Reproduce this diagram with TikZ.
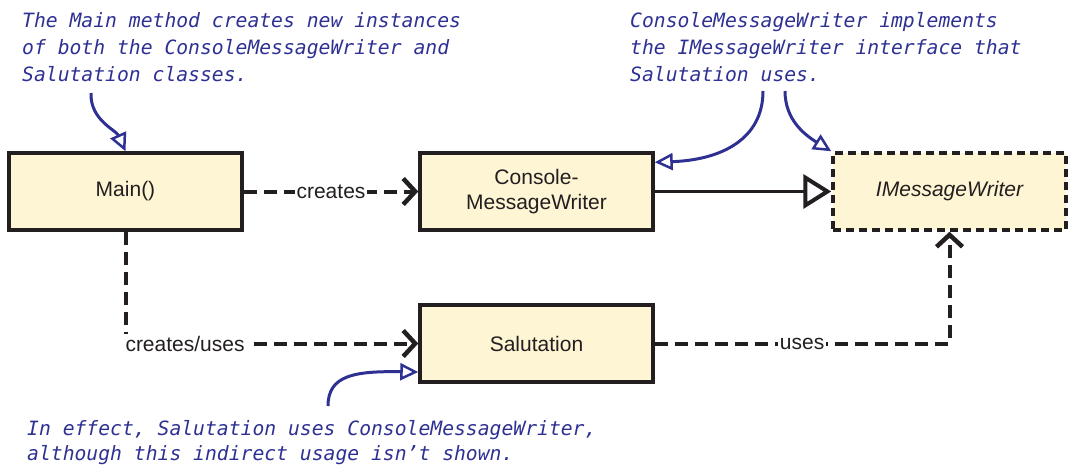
\documentclass[tikz,border=0pt]{standalone}
\usepackage{fontspec}
\setmainfont{Liberation Sans}
\newfontfamily\handfont{DejaVu Sans Mono}
\usetikzlibrary{arrows.meta}
\definecolor{ink}{HTML}{231F20}
\definecolor{boxfill}{HTML}{FDF5D3}
\definecolor{noteblue}{HTML}{2E3192}
\begin{document}
\begin{tikzpicture}[x=1pt,y=-1pt,
  cls/.style={draw=ink, line width=3.5pt, fill=boxfill, minimum width=233pt,
    minimum height=77pt, text=ink, font=\fontsize{21}{25}\selectfont,
    align=center, inner sep=0pt},
  iface/.style={cls, dash pattern=on 8pt off 5pt},
  dep/.style={draw=ink, line width=4pt, dash pattern=on 13pt off 7pt,
    -{Straight Barb[length=12pt, width=26pt, line width=4.5pt]}},
  realize/.style={draw=ink, line width=3.5pt,
    -{Triangle[open, length=28pt, width=34pt, line width=4pt, fill=white]}},
  lbl/.style={fill=white, text=ink, font=\fontsize{21}{25}\selectfont,
    inner sep=2pt},
  note/.style={text=noteblue, font=\handfont\itshape\fontsize{19.7}{27}\selectfont,
    align=left, inner sep=0pt},
  callout/.style={draw=noteblue, line width=3pt,
    -{Triangle[open, length=18pt, width=17pt, line width=2.5pt]}}
]
\useasboundingbox (0,0) rectangle (1070,466);

% classes
\node[cls]   (Main) at (125.5,191.5) {Main()};
\node[cls]   (CMW)  at (536.5,191.5) {Console-\\MessageWriter};
\node[iface] (IMW)  at (949.5,191.5) {\itshape IMessageWriter};
\node[cls]   (Sal)  at (536.5,343.5) {Salutation};

% relationships
\draw[dep] (Main.east) -- node[lbl] {creates} (CMW.west);
\draw[realize] (CMW.east) -- (IMW.west);
\draw[dep] (Main.south) |- node[lbl, anchor=west, xshift=-4pt, pos=0.5] {creates/uses} (Sal.west);
\draw[dep] (Sal.east) -| node[lbl, pos=0.25] {uses} (IMW.south);

% notes
\node[note, anchor=north west] (noteMain) at (22,12)
  {The Main method creates new instances\\of both the ConsoleMessageWriter and\\Salutation classes.};
\node[note, anchor=north west] (noteIface) at (630,12)
  {ConsoleMessageWriter implements\\the IMessageWriter interface that\\Salutation uses.};
\node[note, anchor=north west, font=\handfont\itshape\fontsize{19.7}{25}\selectfont]
  (noteSal) at (27,420)
  {In effect, Salutation uses ConsoleMessageWriter,\\although this indirect usage isn’t shown.};

% callout arrows
\coordinate (cA) at (91,93);
\coordinate (cB) at (763,91);
\coordinate (cC) at (785,91);
\coordinate (cD) at (328,406);
\draw[callout] (cA) .. controls (90,120) and (116,130) .. (Main.north);
\draw[callout] (cB) .. controls (763,140) and (720,160) .. ([yshift=-11pt]CMW.north east);
\draw[callout] (cC) .. controls (785,120) and (805,135) .. (IMW.north west);
\draw[callout] (cD) .. controls (328,375) and (355,371) .. ([yshift=-28.5pt]Sal.west);
\end{tikzpicture}
\end{document}
